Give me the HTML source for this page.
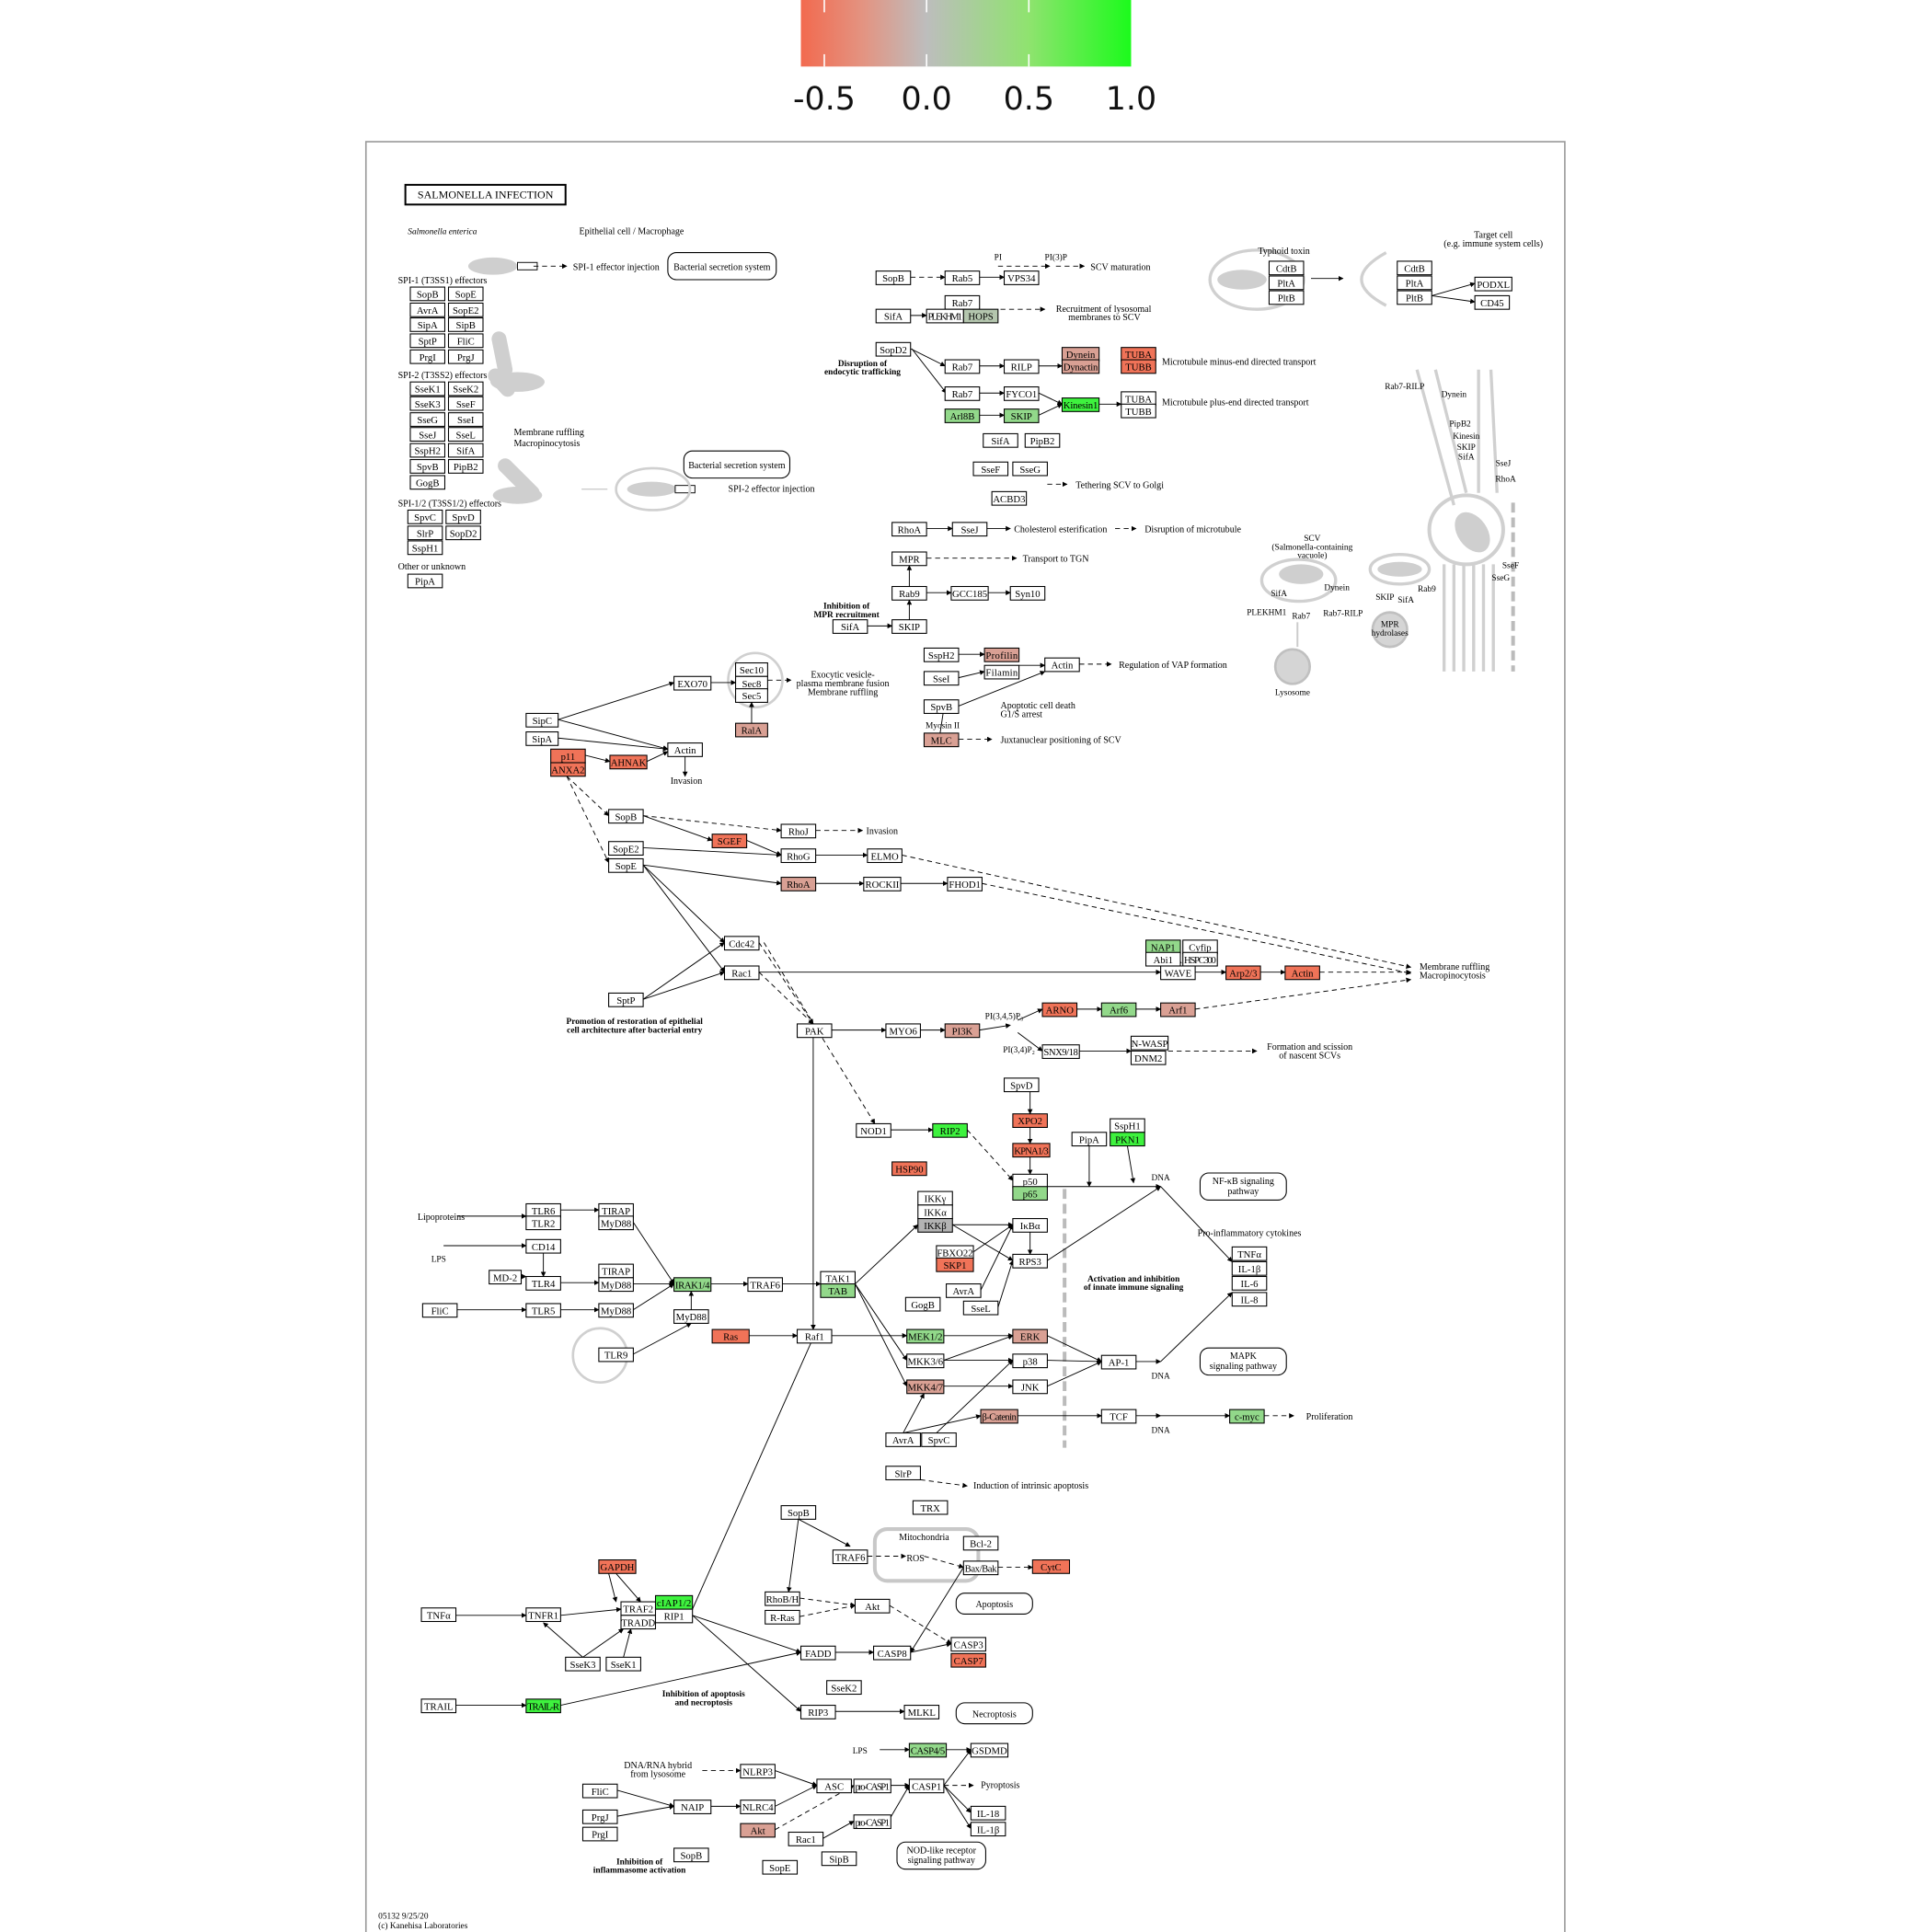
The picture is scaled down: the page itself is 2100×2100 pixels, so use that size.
<!DOCTYPE html>
<html><head><meta charset="utf-8"><title>Salmonella infection pathway</title>
<style>
html,body{margin:0;padding:0;background:#fff;}
svg{display:block;}
text{font-family:"Liberation Serif",serif;}
</style></head>
<body>
<svg id="map" width="2100" height="2100" viewBox="0 0 1568 1568" xmlns="http://www.w3.org/2000/svg">
<defs>
<linearGradient id="cg" x1="0" x2="1" y1="0" y2="0">
<stop offset="0" stop-color="#f26a4f"/>
<stop offset="0.19" stop-color="#e39482"/>
<stop offset="0.38" stop-color="#bdbdbd"/>
<stop offset="0.69" stop-color="#8fe36f"/>
<stop offset="1" stop-color="#1cfb1c"/>
</linearGradient>
<marker id="ar" viewBox="0 0 10 10" refX="9" refY="5" markerWidth="6" markerHeight="6" orient="auto"><path d="M0,0L10,5L0,10z" fill="#000"/></marker>
</defs>
<g>
<rect x="650" y="0" width="268" height="54" fill="url(#cg)"/>
<g id="ticks"></g>
</g>
<rect x="297" y="115" width="973" height="1470" fill="none" stroke="#999" stroke-width="1.2"/>
<g id="deco"></g>
<g id="edges"></g>
<g id="nodes"></g>
<g id="labels"></g>
</svg>
<script>
const NS='http://www.w3.org/2000/svg';
const tickValues=[-0.5,0.0,0.5,1.0];
const tickLabels=['-0.5','0.0','0.5','1.0'];
const R='#f07358', LR='#d9a094', G='#3ef23e', LG='#92d88a', GR='#b4c6ae', GY='#b3b3b3';
// nodes: [x, y, w, label, fill]
const nodes=[
[333,233,28,'SopB',''],[364,233,28,'SopE',''],[333,246,28,'AvrA',''],[364,246,28,'SopE2',''],
[333,258,28,'SipA',''],[364,258,28,'SipB',''],[333,271,28,'SptP',''],[364,271,28,'FliC',''],
[333,284,28,'PrgI',''],[364,284,28,'PrgJ',''],
[333,310,28,'SseK1',''],[364,310,28,'SseK2',''],[333,322,28,'SseK3',''],[364,322,28,'SseF',''],
[333,335,28,'SseG',''],[364,335,28,'SseI',''],[333,347,28,'SseJ',''],[364,347,28,'SseL',''],
[333,360,28,'SspH2',''],[364,360,28,'SifA',''],[333,373,28,'SpvB',''],[364,373,28,'PipB2',''],
[333,386,28,'GogB',''],
[331,414,28,'SpvC',''],[362,414,28,'SpvD',''],[331,427,28,'SlrP',''],[362,427,28,'SopD2',''],
[331,439,28,'SspH1',''],[331,466,28,'PipA',''],
[711,220,28,'SopB',''],[767,220,28,'Rab5',''],[815,220,28,'VPS34',''],
[767,240,28,'Rab7',''],[711,251,28,'SifA',''],[752,251,30,'PLEKHM1',''],[782,251,28,'HOPS',GR],
[711,278,28,'SopD2',''],[767,292,28,'Rab7',''],[815,292,28,'RILP',''],
[862,282,30,'Dynein',LR],[862,292,30,'Dynactin',LR],[910,282,28,'TUBA',R],[910,292,28,'TUBB',R],
[767,314,28,'Rab7',''],[815,314,28,'FYCO1',''],[862,323,30,'Kinesin1',G],
[910,318,28,'TUBA',''],[910,328,28,'TUBB',''],[767,332,28,'Arl8B',LG],[815,332,28,'SKIP',LG],
[798,352,28,'SifA',''],[832,352,28,'PipB2',''],[790,375,28,'SseF',''],[822,375,28,'SseG',''],
[805,399,28,'ACBD3',''],
[1030,212,28,'CdtB',''],[1030,224,28,'PltA',''],[1030,236,28,'PltB',''],
[1134,212,28,'CdtB',''],[1134,224,28,'PltA',''],[1134,236,28,'PltB',''],
[1197,225,30,'PODXL',''],[1197,240,28,'CD45',''],
[724,424,28,'RhoA',''],[773,424,28,'SseJ',''],[724,448,28,'MPR',''],
[724,476,28,'Rab9',''],[772,476,30,'GCC185',''],[820,476,28,'Syn10',''],
[676,503,28,'SifA',''],[724,503,28,'SKIP',''],
[750,526,28,'SspH2',''],[799,526,28,'Profilin',LR],[750,545,28,'SseI',''],[799,540,28,'Filamin',''],
[848,534,28,'Actin',''],[750,568,28,'SpvB',''],[750,595,28,'MLC',LR],
[597,538,26,'Sec10',''],[597,549,26,'Sec8',''],[597,559,26,'Sec5',''],[547,549,30,'EXO70',''],
[597,587,26,'RalA',LR],
[427,579,26,'SipC',''],[427,594,26,'SipA',''],[542,603,28,'Actin',''],
[447,608,28,'p11',R],[447,619,28,'ANXA2',R],[495,613,30,'AHNAK',R],
[494,657,28,'SopB',''],[494,683,28,'SopE2',''],[494,697,28,'SopE',''],[578,677,28,'SGEF',R],
[634,669,28,'RhoJ',''],[634,689,28,'RhoG',''],[704,689,28,'ELMO',''],[634,712,28,'RhoA',LR],
[701,712,30,'ROCKII',''],[769,712,28,'FHOD1',''],
[588,760,28,'Cdc42',''],[588,784,28,'Rac1',''],[494,806,28,'SptP',''],
[930,763,28,'NAP1',LG],[960,763,28,'Cyfip',''],[930,773,28,'Abi1',''],[960,773,28,'HSPC300',''],
[942,784,28,'WAVE',''],[995,784,28,'Arp2/3',R],[1043,784,28,'Actin',R],
[647,831,28,'PAK',''],[719,831,28,'MYO6',''],[767,831,28,'PI3K',LR],
[846,814,28,'ARNO',R],[894,814,28,'Arf6',LG],[942,814,28,'Arf1',LR],
[846,848,30,'SNX9/18',''],[918,841,30,'N-WASP',''],[918,853,28,'DNM2',''],
[815,875,28,'SpvD',''],[822,904,28,'XPO2',R],[822,928,30,'KPNA1/3',R],
[822,953,28,'p50',''],[822,963,28,'p65',LG],[870,919,28,'PipA',''],[901,908,28,'SspH1',''],[901,919,28,'PKN1',G],
[695,912,28,'NOD1',''],[757,912,28,'RIP2',G],[724,943,28,'HSP90',R],
[745,967,28,'IKK\u03b3',''],[745,978,28,'IKK\u03b1',''],[745,989,28,'IKK\u03b2',GY],
[760,1011,30,'FBXO22',''],[760,1021,30,'SKP1',R],[768,1042,28,'AvrA',''],[735,1053,28,'GogB',''],
[782,1056,28,'SseL',''],[822,989,28,'I\u03baB\u03b1',''],[822,1018,28,'RPS3',''],
[427,977,28,'TLR6',''],[427,987,28,'TLR2',''],[486,977,28,'TIRAP',''],[486,987,28,'MyD88',''],
[427,1006,28,'CD14',''],[397,1031,26,'MD-2',''],[427,1036,28,'TLR4',''],
[486,1026,28,'TIRAP',''],[486,1037,28,'MyD88',''],[427,1058,28,'TLR5',''],[343,1058,28,'FliC',''],
[486,1058,28,'MyD88',''],[486,1094,28,'TLR9',''],[547,1063,28,'MyD88',''],
[547,1037,30,'IRAK1/4',LG],[607,1037,28,'TRAF6',''],[666,1032,28,'TAK1',''],[666,1042,28,'TAB',LG],
[578,1079,30,'Ras',R],[647,1079,28,'Raf1',''],[736,1079,30,'MEK1/2',LG],[736,1099,30,'MKK3/6',''],
[736,1120,30,'MKK4/7',LR],[822,1079,28,'ERK',LR],[822,1099,28,'p38',''],[822,1120,28,'JNK',''],
[894,1100,28,'AP-1',''],[796,1144,30,'\u03b2-Catenin',LR],[894,1144,28,'TCF',''],[998,1144,28,'c-myc',LG],
[719,1163,28,'AvrA',''],[748,1163,28,'SpvC',''],
[1000,1012,28,'TNF\u03b1',''],[1000,1024,28,'IL-1\u03b2',''],[1000,1036,28,'IL-6',''],[1000,1049,28,'IL-8',''],
[719,1190,28,'SlrP',''],[741,1218,28,'TRX',''],
[634,1222,28,'SopB',''],[676,1258,28,'TRAF6',''],[782,1247,28,'Bcl-2',''],[782,1267,28,'Bax/Bak',''],
[838,1266,30,'CytC',R],
[486,1266,30,'GAPDH',R],[342,1305,28,'TNF\u03b1',''],[427,1305,28,'TNFR1',''],
[504,1300,28,'TRAF2',''],[504,1311,28,'TRADD',''],[532,1295,30,'cIAP1/2',G],[532,1306,30,'RIP1',''],
[621,1292,28,'RhoB/H',''],[621,1307,28,'R-Ras',''],[694,1298,28,'Akt',''],
[459,1345,28,'SseK3',''],[492,1345,28,'SseK1',''],[650,1336,28,'FADD',''],[709,1336,30,'CASP8',''],
[772,1329,28,'CASP3',''],[772,1342,28,'CASP7',R],[671,1364,28,'SseK2',''],
[342,1379,28,'TRAIL',''],[427,1379,28,'TRAIL-R',G],[650,1384,28,'RIP3',''],[734,1384,28,'MLKL',''],
[738,1415,30,'CASP4/5',LG],[788,1415,30,'GSDMD',''],[601,1432,28,'NLRP3',''],
[663,1444,28,'ASC',''],[693,1444,30,'pro-CASP1',''],[738,1444,28,'CASP1',''],
[473,1448,28,'FliC',''],[547,1461,30,'NAIP',''],[601,1461,28,'NLRC4',''],
[473,1469,28,'PrgJ',''],[473,1483,28,'PrgI',''],[601,1480,28,'Akt',LR],[640,1487,28,'Rac1',''],
[693,1473,30,'pro-CASP1',''],[788,1466,28,'IL-18',''],[788,1479,28,'IL-1\u03b2',''],
[547,1500,28,'SopB',''],[619,1510,28,'SopE',''],[667,1503,28,'SipB','']
];
// edges: [x1,y1,x2,y2,dashed]
const edges=[
[433,216,460,216,1],[739,225,767,225,1],[795,225,815,225,0],[810,216,852,216,1],[857,216,880,216,1],
[739,256,752,256,0],[812,251,848,251,1],[739,283,767,297,0],[795,297,815,297,0],[843,297,862,297,0],
[740,283,768,319,0],[795,319,815,319,0],[843,319,862,328,0],[890,328,910,328,0],[843,337,862,328,0],
[795,337,815,337,0],[850,393,866,393,1],
[1064,226,1090,226,0],[1162,240,1197,230,0],[1162,240,1197,245,0],
[752,429,773,429,0],[801,429,820,429,0],[905,429,922,429,1],[752,453,825,453,1],[738,476,738,459,0],
[752,481,772,481,0],[802,481,820,481,0],[738,503,738,487,0],[704,508,724,508,0],
[778,531,799,531,0],[827,540,848,540,0],[876,539,902,539,1],[778,550,799,545,0],[778,573,848,545,0],
[778,600,805,600,1],[763,595,766,575,0],[763,595,762,605,0],
[575,554,597,554,0],[623,552,642,552,1],[453,584,547,554,0],[453,584,542,608,0],[453,599,542,608,0],
[475,613,495,618,0],[525,618,542,610,0],
[556,614,556,630,0],[610,587,610,570,0],[460,630,494,662,1],[460,630,494,700,1],
[522,662,634,674,1],[662,674,700,674,1],[522,662,578,682,0],[606,682,634,694,0],[662,694,704,694,0],
[522,688,634,694,0],[522,702,634,717,0],[662,717,701,717,0],[731,717,769,717,0],
[732,694,1145,785,1],[797,717,1145,790,1],[522,702,588,765,0],[522,702,588,789,0],[522,811,588,765,0],[522,811,588,789,0],
[616,789,942,789,0],[970,789,995,789,0],[1023,789,1043,789,0],[1071,789,1145,789,1],[957,784,957,778,0],
[616,765,660,831,1],[616,789,660,831,1],[675,836,719,836,0],[747,836,767,836,0],[795,836,820,832,0],
[826,828,846,819,0],[874,819,894,819,0],[922,819,942,819,0],[970,819,1145,795,1],[826,838,846,853,0],
[876,853,918,853,0],[948,853,1020,853,1],[620,765,710,912,1],[660,842,660,1079,0],
[723,917,757,917,0],[785,917,822,958,1],[836,880,836,904,0],[836,915,836,928,0],[836,939,836,953,0],
[850,963,942,963,0],[884,930,884,963,0],[915,930,920,960,0],
[773,994,822,994,0],[773,994,822,1023,0],[790,1016,822,994,0],[796,1047,822,994,0],[810,1061,822,1023,0],
[836,1000,836,1018,0],[850,1023,942,963,0],[942,963,1000,1024,0],
[371,987,427,987,0],[455,982,486,982,0],[360,1011,427,1011,0],[441,1017,441,1036,0],[423,1036,427,1036,0],
[455,1041,486,1041,0],[455,1063,486,1063,0],[371,1063,427,1063,0],
[514,992,547,1042,0],[514,1042,547,1042,0],[514,1063,547,1042,0],[561,1063,561,1048,0],[514,1099,561,1074,0],
[577,1042,607,1042,0],[635,1042,666,1042,0],[694,1042,745,994,0],[694,1042,736,1104,0],[694,1042,736,1125,0],
[608,1084,647,1084,0],[675,1084,736,1084,0],[766,1084,822,1084,0],[766,1104,822,1104,0],[766,1104,822,1084,0],
[766,1125,822,1125,0],[850,1084,894,1105,0],[850,1104,894,1105,0],[850,1125,894,1105,0],[922,1105,942,1105,0],
[942,1105,1000,1049,0],[824,1149,894,1149,0],[922,1149,942,1149,0],[942,1149,998,1149,0],[1026,1149,1050,1149,1],
[733,1163,796,1149,0],[760,1163,822,1104,0],[733,1163,750,1131,0],
[740,1200,785,1206,1],[648,1233,640,1292,0],[648,1233,690,1255,0],[704,1263,735,1263,1],[750,1263,782,1272,1],
[810,1272,838,1272,1],[370,1311,427,1311,0],[455,1311,504,1306,0],[562,1306,663,1079,0],
[562,1311,650,1341,0],[562,1311,650,1389,0],[649,1297,694,1303,1],[649,1312,694,1303,1],
[678,1341,709,1341,0],[739,1341,772,1334,0],[722,1303,772,1334,1],[782,1272,739,1341,0],
[370,1384,427,1384,0],[455,1384,650,1341,0],[678,1389,734,1389,0],
[473,1345,441,1317,0],[473,1345,506,1322,0],[506,1345,512,1322,0],[494,1277,500,1300,0],[500,1277,520,1300,0],
[714,1420,738,1420,0],[768,1420,788,1420,0],[570,1437,601,1437,1],[629,1437,663,1449,0],
[723,1449,738,1449,0],[766,1449,788,1420,0],[766,1449,788,1471,0],[766,1449,788,1484,0],[766,1449,790,1449,1],
[501,1453,547,1466,0],[501,1474,547,1466,0],[577,1466,601,1466,0],[629,1466,663,1449,0],
[629,1485,693,1449,1],[668,1492,693,1478,0],[721,1478,738,1449,0]
];
// free text labels: [x, y, text, size, bold, anchor]
const texts=[
[331,190,'Salmonella enterica',7,0,'start'],[470,190,'Epithelial cell / Macrophage',7.5,0,'start'],
[465,219,'SPI-1 effector injection',7.5,0,'start'],[323,230,'SPI-1 (T3SS1) effectors',7.5,0,'start'],
[323,307,'SPI-2 (T3SS2) effectors',7.5,0,'start'],[417,353,'Membrane ruffling',7.5,0,'start'],[417,362,'Macropinocytosis',7.5,0,'start'],
[591,399,'SPI-2 effector injection',7.5,0,'start'],[323,411,'SPI-1/2 (T3SS1/2) effectors',7.5,0,'start'],
[323,462,'Other or unknown',7.5,0,'start'],
[810,211,'PI',7,0,'middle'],[857,211,'PI(3)P',7,0,'middle'],[885,219,'SCV maturation',7.5,0,'start'],
[857,253,'Recruitment of lysosomal',7.5,0,'start'],[867,260,'membranes to SCV',7.5,0,'start'],
[700,297,'Disruption of',7,1,'middle'],[700,304,'endocytic trafficking',7,1,'middle'],
[943,296,'Microtubule minus-end directed transport',7.5,0,'start'],[943,329,'Microtubule plus-end directed transport',7.5,0,'start'],
[873,396,'Tethering SCV to Golgi',7.5,0,'start'],[1042,206,'Typhoid toxin',7.5,0,'middle'],
[1212,193,'Target cell',7.5,0,'middle'],[1212,200,'(e.g. immune system cells)',7.5,0,'middle'],
[823,432,'Cholesterol esterification',7.5,0,'start'],[929,432,'Disruption of microtubule',7.5,0,'start'],
[830,456,'Transport to TGN',7.5,0,'start'],[687,494,'Inhibition of',7,1,'middle'],[687,501,'MPR recruitment',7,1,'middle'],
[684,550,'Exocytic vesicle-',7.5,0,'middle'],[684,557,'plasma membrane fusion',7.5,0,'middle'],[684,564,'Membrane ruffling',7.5,0,'middle'],
[908,542,'Regulation of VAP formation',7.5,0,'start'],[812,575,'Apoptotic cell death',7.5,0,'start'],[812,582,'G1/S arrest',7.5,0,'start'],
[765,591,'Myosin II',7,0,'middle'],[812,603,'Juxtanuclear positioning of SCV',7.5,0,'start'],
[557,636,'Invasion',7.5,0,'middle'],[703,677,'Invasion',7.5,0,'start'],
[515,831,'Promotion of restoration of epithelial',7,1,'middle'],[515,838,'cell architecture after bacterial entry',7,1,'middle'],
[1152,787,'Membrane ruffling',7.5,0,'start'],[1152,794,'Macropinocytosis',7.5,0,'start'],
[1063,852,'Formation and scission',7.5,0,'middle'],[1063,859,'of nascent SCVs',7.5,0,'middle'],
[815,827,'PI(3,4,5)P\u2083',7,0,'middle'],[827,854,'PI(3,4)P\u2082',7,0,'middle'],
[358,990,'Lipoproteins',7.5,0,'middle'],[356,1024,'LPS',7,0,'middle'],
[942,958,'DNA',7,0,'middle'],[942,1119,'DNA',7,0,'middle'],[942,1163,'DNA',7,0,'middle'],
[1014,1003,'Pro-inflammatory cytokines',7.5,0,'middle'],[920,1040,'Activation and inhibition',7,1,'middle'],[920,1047,'of innate immune signaling',7,1,'middle'],
[1060,1152,'Proliferation',7.5,0,'start'],[790,1208,'Induction of intrinsic apoptosis',7.5,0,'start'],
[750,1250,'Mitochondria',7.5,0,'middle'],[743,1267,'ROS',7.5,0,'middle'],
[571,1377,'Inhibition of apoptosis',7,1,'middle'],[571,1384,'and necroptosis',7,1,'middle'],
[704,1423,'LPS',7,0,'end'],[534,1435,'DNA/RNA hybrid',7.5,0,'middle'],[534,1442,'from lysosome',7.5,0,'middle'],
[796,1451,'Pyroptosis',7.5,0,'start'],[519,1513,'Inhibition of',7,1,'middle'],[519,1520,'inflammasome activation',7,1,'middle'],
[307,1557,'05132 9/25/20',7,0,'start'],[307,1565,'(c) Kanehisa Laboratories',7,0,'start'],
[1140,316,'Rab7-RILP',7,0,'middle'],[1180,322,'Dynein',7,0,'middle'],[1185,346,'PipB2',7,0,'middle'],[1190,356,'Kinesin',7,0,'middle'],
[1190,365,'SKIP',7,0,'middle'],[1190,373,'SifA',7,0,'middle'],[1220,378,'SseJ',7,0,'middle'],[1222,391,'RhoA',7,0,'middle'],
[1065,439,'SCV',7,0,'middle'],[1065,446,'(Salmonella-containing',7,0,'middle'],[1065,453,'vacuole)',7,0,'middle'],
[1085,479,'Dynein',7,0,'middle'],[1158,480,'Rab9',7,0,'middle'],[1038,484,'SifA',7,0,'middle'],[1124,487,'SKIP',7,0,'middle'],[1141,489,'SifA',7,0,'middle'],
[1028,499,'PLEKHM1',7,0,'middle'],[1056,502,'Rab7',7,0,'middle'],[1090,500,'Rab7-RILP',7,0,'middle'],
[1128,509,'MPR',7,0,'middle'],[1128,516,'hydrolases',7,0,'middle'],[1049,564,'Lysosome',7,0,'middle'],[1226,461,'SseF',7,0,'middle'],[1218,471,'SseG',7,0,'middle']
];
// rounded pathway boxes: [x,y,w,h,line1,line2]
const pbox=[
[542,205,88,22,'Bacterial secretion system',''],[555,366,86,22,'Bacterial secretion system',''],
[974,952,70,22,'NF-\u03baB signaling','pathway'],[974,1094,70,22,'MAPK','signaling pathway'],
[776,1293,62,17,'Apoptosis',''],[776,1382,62,17,'Necroptosis',''],[728,1495,72,22,'NOD-like receptor','signaling pathway']
];

function mk(tag,attrs,parent){const e=document.createElementNS(NS,tag);for(const k in attrs)e.setAttribute(k,attrs[k]);parent.appendChild(e);return e;}

const cbX=v=>669+(v-(-0.5))*(835-669);
const tg=document.getElementById('ticks');
tickValues.forEach((v,i)=>{
  const x=cbX(v);
  if(i<3){
    const l1=mk('line',{x1:x,x2:x,y1:0,y2:10,stroke:'#fff','stroke-width':1.2},tg);
    
    
    const l2=mk('line',{x1:x,x2:x,y1:44,y2:54,stroke:'#fff','stroke-width':1.2},tg);
    
    
  }
  const t=mk('text',{x:x,y:89,'text-anchor':'middle','font-size':26,style:'font-family:"DejaVu Sans","Liberation Sans",sans-serif',fill:'#111'},tg);
  
  
  t.textContent=tickLabels[i];
});

const dg=document.getElementById('deco');
function deco(tag,a){const e=mk(tag,a,dg);return e;}
const title=mk('rect',{x:329,y:150,width:130,height:16,fill:'#fff',stroke:'#000','stroke-width':1.5},dg);

[[400,216,20,7],[420,310,22,8],[420,402,20,7],[529,397,20,6]].forEach(c=>deco('ellipse',{cx:c[0],cy:c[1],rx:c[2],ry:c[3],fill:'#cfcfcf'}));
deco('rect',{x:420,y:213,width:16,height:6,fill:'#fff',stroke:'#000','stroke-width':0.7});
deco('rect',{x:548,y:394,width:16,height:6,fill:'#fff',stroke:'#000','stroke-width':0.7});
[[405,275,410,300],[402,305,412,316],[410,378,432,400]].forEach(c=>deco('line',{x1:c[0],y1:c[1],x2:c[2],y2:c[3],stroke:'#cfcfcf','stroke-width':12,'stroke-linecap':'round'}));
deco('ellipse',{cx:530,cy:397,rx:30,ry:17,fill:'none',stroke:'#d0d0d0','stroke-width':2});
deco('line',{x1:472,y1:397,x2:493,y2:397,stroke:'#ccc','stroke-width':1});
deco('ellipse',{cx:1020,cy:227,rx:38,ry:24,fill:'none',stroke:'#d0d0d0','stroke-width':2.5});
deco('ellipse',{cx:1008,cy:227,rx:20,ry:8,fill:'#cfcfcf'});
deco('path',{d:'M1125,205 Q1085,227 1125,248',fill:'none',stroke:'#d0d0d0','stroke-width':2.5});
deco('circle',{cx:613,cy:552,r:22,fill:'none',stroke:'#d0d0d0','stroke-width':2});
deco('circle',{cx:487,cy:1100,r:22,fill:'none',stroke:'#d0d0d0','stroke-width':2});
deco('rect',{x:710,y:1241,width:84,height:42,rx:10,fill:'none',stroke:'#c8c8c8','stroke-width':3});
deco('line',{x1:864,y1:965,x2:864,y2:1175,stroke:'#bbb','stroke-width':3,'stroke-dasharray':'8,4'});
deco('line',{x1:1228,y1:408,x2:1228,y2:545,stroke:'#bbb','stroke-width':3,'stroke-dasharray':'8,4'});
deco('ellipse',{cx:1190,cy:430,rx:30,ry:28,fill:'none',stroke:'#d0d0d0','stroke-width':3});
deco('ellipse',{cx:1195,cy:432,rx:12,ry:18,fill:'#cfcfcf',transform:'rotate(-35 1195 432)'});
[1172,1180,1188,1196,1204,1212].forEach(x=>deco('path',{d:'M'+x+',458 L'+x+',545',fill:'none',stroke:'#d0d0d0','stroke-width':2.5}));
deco('path',{d:'M1150,300 L1180,410 M1165,300 L1190,400 M1200,300 L1200,400 M1210,300 L1215,400',fill:'none',stroke:'#d0d0d0','stroke-width':2.5});
deco('ellipse',{cx:1054,cy:471,rx:30,ry:17,fill:'none',stroke:'#d0d0d0','stroke-width':2.5});
deco('ellipse',{cx:1056,cy:466,rx:18,ry:8,fill:'#cfcfcf'});
deco('ellipse',{cx:1136,cy:462,rx:24,ry:12,fill:'none',stroke:'#d0d0d0','stroke-width':2.5});
deco('ellipse',{cx:1136,cy:462,rx:18,ry:6,fill:'#cfcfcf'});
deco('circle',{cx:1049,cy:541,r:14,fill:'#d5d5d5',stroke:'#c0c0c0','stroke-width':2});
deco('circle',{cx:1128,cy:511,r:14,fill:'#d5d5d5',stroke:'#c0c0c0','stroke-width':2});
deco('line',{x1:1053,y1:525,x2:1053,y2:505,stroke:'#ccc','stroke-width':1.5});

const eg=document.getElementById('edges');
edges.forEach(e=>{
  const l=mk('line',{x1:e[0],y1:e[1],x2:e[2],y2:e[3],stroke:'#000','stroke-width':0.7,'marker-end':'url(#ar)'},eg);
  if(e[4])l.setAttribute('stroke-dasharray','4,3');
  
  
});

const ng=document.getElementById('nodes');
nodes.forEach(n=>{
  const g=mk('g',{},ng);
  
  
  mk('rect',{x:n[0],y:n[1],width:n[2],height:11,fill:n[4]||'#fff',stroke:'#000','stroke-width':0.8},g);
  const t=mk('text',{x:n[0]+n[2]/2,y:n[1]+8.6,'text-anchor':'middle','font-size':8,fill:'#000'},g);
  t.textContent=n[3];
  if(n[3].length>6)t.setAttribute('textLength',n[2]-2);
});

pbox.forEach(p=>{
  const g=mk('g',{},ng);
  
  
  mk('rect',{x:p[0],y:p[1],width:p[2],height:p[3],rx:7,fill:'#fff',stroke:'#000','stroke-width':0.8},g);
  if(p[5]){
    mk('text',{x:p[0]+p[2]/2,y:p[1]+9,'text-anchor':'middle','font-size':7.5},g).textContent=p[4];
    mk('text',{x:p[0]+p[2]/2,y:p[1]+17,'text-anchor':'middle','font-size':7.5},g).textContent=p[5];
  } else {
    mk('text',{x:p[0]+p[2]/2,y:p[1]+p[3]/2+3,'text-anchor':'middle','font-size':7.5},g).textContent=p[4];
  }
});

const lg=document.getElementById('labels');
const tt=mk('text',{x:394,y:161,'text-anchor':'middle','font-size':9},lg);

tt.textContent='SALMONELLA INFECTION';
texts.forEach(t=>{
  const e=mk('text',{x:t[0],y:t[1],'font-size':t[3],'text-anchor':t[5],fill:'#000'},lg);
  if(t[4])e.setAttribute('font-weight','bold');
  if(t[2]==='Salmonella enterica')e.setAttribute('font-style','italic');
  
  
  e.textContent=t[2];
});
</script>
</body></html>
